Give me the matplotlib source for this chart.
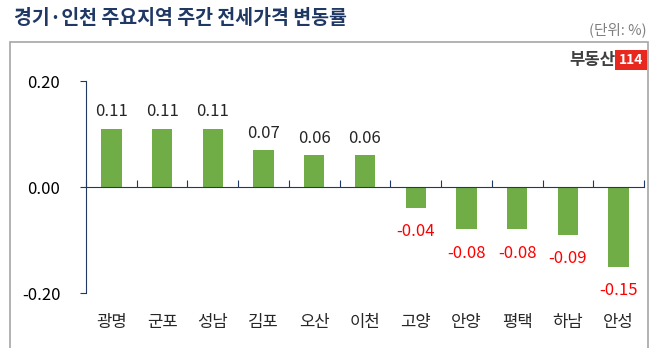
import matplotlib.pyplot as plt
from matplotlib.patches import Rectangle
import matplotlib.transforms as mtransforms

plt.rcParams['font.family'] = ['Noto Sans CJK KR', 'DejaVu Sans']

# 지역별 주간 전세가격 변동률 (%)
regions = ['광명', '군포', '성남', '김포', '오산', '이천', '고양', '안양', '평택', '하남', '안성']
changes = [0.11, 0.11, 0.11, 0.07, 0.06, 0.06, -0.04, -0.08, -0.08, -0.09, -0.15]
yticks = [-0.20, 0.00, 0.20]

W, H = 655, 348
fig = plt.figure(figsize=(W / 100, H / 100), dpi=100)
navy = '#1f3864'

# 바깥 테두리
fig.patches.append(Rectangle((10 / W, -0.05), (648 - 10) / W, 1.05 - 42 / H,
                             transform=fig.transFigure, fill=False,
                             edgecolor='#a6a6a6', linewidth=1.2))

fig.text(14 / W, 1 - 18 / H, '경기·인천 주요지역 주간 전세가격 변동률', fontsize=14,
         fontweight='bold', color=navy, ha='left', va='center')
fig.text(647 / W, 1 - 30 / H, '(단위: %)', fontsize=10.5, color='#7f7f7f',
         ha='right', va='center')

# 로고
fig.text(615 / W, 1 - 60 / H, '부동산', fontsize=12, fontweight='black',
         color='#404040', ha='right', va='center')
fig.text(631 / W, 1 - 60 / H, '114', fontsize=10, fontweight='bold', color='white',
         ha='center', va='center',
         bbox=dict(boxstyle='square,pad=0.25', facecolor='#e8281e', edgecolor='none'))

ax = fig.add_axes([86 / W, 1 - 293 / H, (644 - 86) / W, (293 - 81) / H])
x = list(range(len(regions)))
ax.bar(x, changes, width=0.4, color='#70ad47', zorder=2)

ax.set_xlim(-0.5, len(regions) - 0.5)
ax.set_ylim(-0.2, 0.2)
ax.set_yticks(yticks)
ax.set_yticklabels([f'{v:.2f}' for v in yticks], fontsize=12)
ax.tick_params(axis='y', direction='out', length=4, color=navy, pad=14.5)

for s in ['top', 'right']:
    ax.spines[s].set_visible(False)
ax.spines['left'].set_color(navy)
ax.spines['bottom'].set_color(navy)
ax.spines['bottom'].set_position(('data', 0))
ax.set_xticks([i - 0.5 for i in range(len(regions) + 1)])
ax.set_xticklabels([])
ax.tick_params(axis='x', direction='in', length=5, color=navy)

for xi, v in zip(x, changes):
    if v >= 0:
        ax.annotate(f'{v:.2f}', (xi, v), xytext=(0, 6), textcoords='offset points',
                    ha='center', va='bottom', fontsize=12, color='#262626')
    else:
        ax.annotate(f'{v:.2f}', (xi, v), xytext=(0, -11), textcoords='offset points',
                    ha='center', va='top', fontsize=12, color='#ff0000')

trans = mtransforms.blended_transform_factory(ax.transData, ax.transAxes)
for xi, name in zip(x, regions):
    ax.annotate(name, (xi, 0), xycoords=trans, xytext=(0, -21),
                textcoords='offset points', ha='center', va='center',
                fontsize=12, color='#262626')

fig.savefig('out.png', dpi=100)
